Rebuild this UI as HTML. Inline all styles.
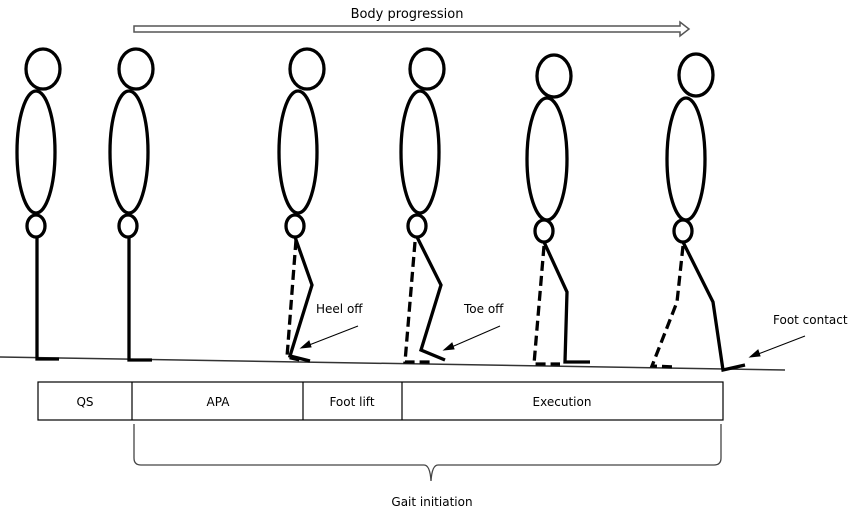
<!DOCTYPE html>
<html><head><meta charset="utf-8"><style>
html,body{margin:0;padding:0;background:#fff;}
svg{display:block;font-family:"DejaVu Sans","Liberation Sans",sans-serif;}
</style></head><body>
<svg width="856" height="516" viewBox="0 0 856 516" xmlns="http://www.w3.org/2000/svg">
<rect width="856" height="516" fill="#fff"/>
<text x="407" y="18" font-size="13" text-anchor="middle" fill="#000">Body progression</text>
<path d="M134,26 L680,26 L680,22 L689,29 L680,36 L680,32 L134,32 Z" fill="none" stroke="#555" stroke-width="1.5"/>
<line x1="0" y1="357" x2="785" y2="370" stroke="#333" stroke-width="1.5"/>
<g fill="none" stroke="#000" stroke-width="3.3">
<ellipse cx="43" cy="69" rx="17" ry="20"/>
<ellipse cx="36" cy="152" rx="19" ry="61"/>
<ellipse cx="36" cy="226" rx="9" ry="11"/>
<polyline points="37,237 37,359 59,359"/>
<ellipse cx="136" cy="69" rx="17" ry="20"/>
<ellipse cx="129" cy="152" rx="19" ry="61"/>
<ellipse cx="128" cy="226" rx="9" ry="11"/>
<polyline points="129,237 129,360 152,360"/>
<ellipse cx="307" cy="69" rx="17" ry="20"/>
<ellipse cx="298" cy="152" rx="19" ry="61"/>
<ellipse cx="295" cy="226" rx="9" ry="11"/>
<polyline points="295,237 312,285 290,356 310,361"/>
<polyline points="296,240 287,357 300,360" stroke-dasharray="10,5"/>
<ellipse cx="427" cy="69" rx="17" ry="20"/>
<ellipse cx="420" cy="152" rx="19" ry="61"/>
<ellipse cx="417" cy="226" rx="9" ry="11"/>
<polyline points="417,237 441,285 421,350 445,360"/>
<polyline points="415,242 405,362 433,362" stroke-dasharray="10,5"/>
<ellipse cx="554" cy="76" rx="17" ry="21"/>
<ellipse cx="547" cy="159" rx="20" ry="61"/>
<ellipse cx="544" cy="231" rx="9" ry="11"/>
<polyline points="544,242 567,292 565,362 590,362"/>
<polyline points="544,246 534,364 560,364" stroke-dasharray="10,5"/>
<ellipse cx="696" cy="75" rx="17" ry="21"/>
<ellipse cx="686" cy="159" rx="19" ry="61"/>
<ellipse cx="683" cy="231" rx="9" ry="11"/>
<polyline points="683,242 713,302 723,370 745,365"/>
<polyline points="683,246 677,302 652,366 675,367" stroke-dasharray="10,5"/>
</g>
<g font-size="12" fill="#000">
<text x="316" y="313">Heel off</text>
<text x="464" y="313">Toe off</text>
<text x="773" y="324">Foot contact</text>
</g>
<g stroke="#000" stroke-width="1" fill="#000">
<line x1="358" y1="326" x2="304" y2="347"/>
<polygon points="301,348 309,341 311,347"/>
<line x1="500" y1="326" x2="447" y2="349"/>
<polygon points="444,350 452,343 454,349"/>
<line x1="805" y1="336" x2="753" y2="356"/>
<polygon points="750,357 758,350 760,356"/>
</g>
<g fill="none" stroke="#000" stroke-width="1.2">
<rect x="38" y="382" width="685" height="38"/>
<line x1="132" y1="382" x2="132" y2="420"/>
<line x1="303" y1="382" x2="303" y2="420"/>
<line x1="402" y1="382" x2="402" y2="420"/>
</g>
<g font-size="12" fill="#000" text-anchor="middle">
<text x="85" y="406">QS</text>
<text x="218" y="406">APA</text>
<text x="352" y="406">Foot lift</text>
<text x="562" y="406">Execution</text>
</g>
<path d="M134,424 L134,458 Q134,465 141,465 L424,465 Q430,465 431,481 Q432,465 438,465 L714,465 Q721,465 721,458 L721,424" fill="none" stroke="#444" stroke-width="1.3"/>
<text x="432" y="506" font-size="12" text-anchor="middle" fill="#000">Gait initiation</text>
</svg>
</body></html>
